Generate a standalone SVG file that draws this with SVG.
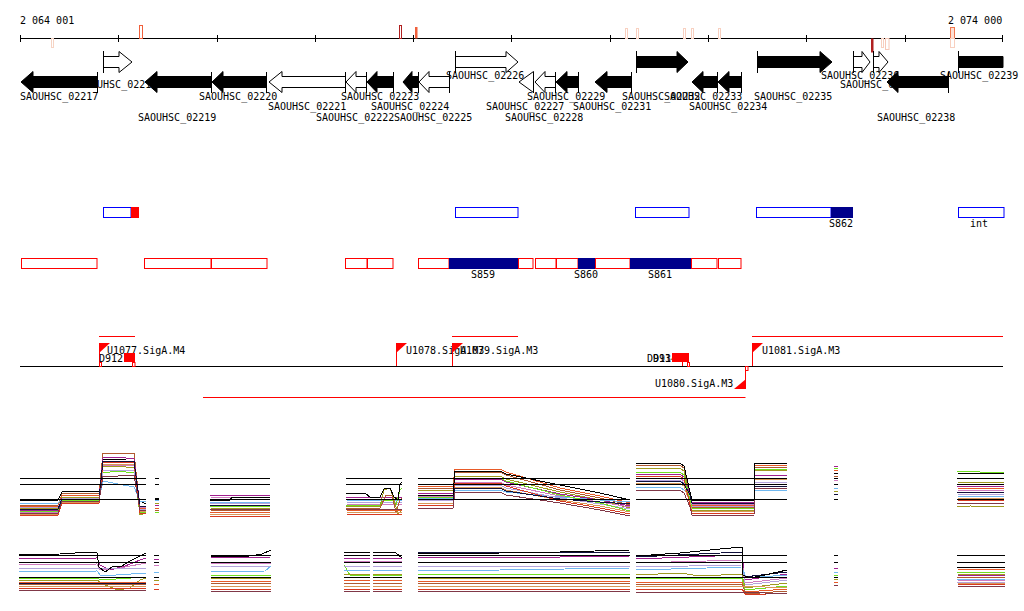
<svg xmlns="http://www.w3.org/2000/svg" width="1024" height="611" viewBox="0 0 1024 611">
<style>
.lbl{font-family:"DejaVu Sans Mono","Liberation Mono",monospace;font-size:10px;fill:#000}
.gb{fill:#000;stroke:#000;stroke-width:1}
.go{fill:#fff;stroke:#000;stroke-width:1}
.gl{stroke:#000;stroke-width:1;fill:none}
.bb{fill:none;stroke:#0000ff;stroke-width:1}
.rb{fill:none;stroke:#ff0000;stroke-width:1}
.nv{fill:#00008b}
.rl{stroke:#ff0000;stroke-width:1;fill:none}
.rf{fill:#ff0000}
.ex polyline,.ex path{fill:none;stroke-width:1;shape-rendering:crispEdges}
.ref{stroke:#000;stroke-width:1;fill:none;shape-rendering:crispEdges}
.k{stroke:#000000}.n{stroke:#10103c}.o{stroke:#e85a28}.b{stroke:#b05a30}.v{stroke:#a09a20}.m{stroke:#a0208f}
.l{stroke:#70b8f0}.p{stroke:#d07cc0}.g{stroke:#70e020}.a{stroke:#b4a4dc}.t{stroke:#d89858}.r{stroke:#d83a20}.d{stroke:#803848}
</style>
<rect width="1024" height="611" fill="#fff"/>

<g id="axis">
<text class="lbl" x="20" y="24">2 064 001</text>
<text class="lbl" x="948" y="24">2 074 000</text>
<path class="gl" d="M20,38.5H1003M20.5,35V42M118.5,35V42M217.5,35V42M315.5,35V42M413.5,35V42M511.5,35V42M610.5,35V42M708.5,35V42M806.5,35V42M905.5,35V42M1002.5,35V42"/>
<g id="axis-marks" stroke-width="1">
<rect x="51.5" y="38.5" width="2" height="9" fill="#fff" stroke="#f6d4c4"/>
<rect x="139.5" y="25.5" width="3" height="13" fill="#fff" stroke="#f0603c"/>
<rect x="399.5" y="25.5" width="2" height="13" fill="#fff" stroke="#b02020"/>
<rect x="415" y="27" width="2.5" height="11.5" fill="#f0603c"/>
<rect x="625.5" y="28.5" width="2" height="10" fill="#fff" stroke="#f8d0c0"/>
<rect x="636.5" y="28.5" width="2" height="10" fill="#fff" stroke="#f8d0c0"/>
<rect x="683.5" y="28.5" width="2" height="10" fill="#fff" stroke="#f8d0c0"/>
<rect x="691.5" y="28.5" width="2" height="10" fill="#fff" stroke="#f8d0c0"/>
<rect x="718.5" y="28.5" width="2" height="10" fill="#fff" stroke="#f8d0c0"/>
<rect x="871" y="38.5" width="2.5" height="14" fill="#b02020"/>
<rect x="881.5" y="38.5" width="2" height="9" fill="#fff" stroke="#f8d0c0"/>
<rect x="885.5" y="38.5" width="3.5" height="11" fill="#fff" stroke="#f6c8b8"/>
<rect x="950.5" y="27.5" width="4" height="11" fill="#fde0d4" stroke="#f07850"/>
<rect x="950.5" y="38.5" width="4" height="9" fill="#fff" stroke="#f8d0c0"/>
</g>
</g>

<g id="gene-labels">
<text class="lbl" x="446" y="79">SAOUHSC_02226</text>
<text class="lbl" x="821" y="79">SAOUHSC_02236</text>
<text class="lbl" x="940" y="79">SAOUHSC_02239</text>
<text class="lbl" x="79" y="87.5">SAOUHSC_02218</text>
<text class="lbl" x="840" y="87.5">SAOUHSC_02237</text>
<text class="lbl" x="20" y="100">SAOUHSC_02217</text>
<text class="lbl" x="199" y="100">SAOUHSC_02220</text>
<text class="lbl" x="341" y="100">SAOUHSC_02223</text>
<text class="lbl" x="527" y="100">SAOUHSC_02229</text>
<text class="lbl" x="622" y="100">SAOUHSC_02232</text>
<text class="lbl" x="664" y="100">SAOUHSC_02233</text>
<text class="lbl" x="754" y="100">SAOUHSC_02235</text>
<text class="lbl" x="268" y="110">SAOUHSC_02221</text>
<text class="lbl" x="371" y="110">SAOUHSC_02224</text>
<text class="lbl" x="486" y="110">SAOUHSC_02227</text>
<text class="lbl" x="573" y="110">SAOUHSC_02231</text>
<text class="lbl" x="689" y="110">SAOUHSC_02234</text>
<text class="lbl" x="138" y="121">SAOUHSC_02219</text>
<text class="lbl" x="316" y="121">SAOUHSC_02222</text>
<text class="lbl" x="394" y="121">SAOUHSC_02225</text>
<text class="lbl" x="505" y="121">SAOUHSC_02228</text>
<text class="lbl" x="877" y="121">SAOUHSC_02238</text>
</g>

<g id="genes">
<g id="gene-02217"><path class="gb" d="M21,82L33,71.5V76.5H97.5V87.5H33V92.5Z"/><path class="gl" d="M97.5,72V93"/></g>
<g id="gene-02218"><path class="go" d="M103.5,56.5H119V51.5L132,62L119,72.5V67.5H103.5Z"/><path class="gl" d="M103.5,51V73"/></g>
<g id="gene-02219"><path class="gb" d="M145,82L157,71.5V76.5H211.5V87.5H157V92.5Z"/><path class="gl" d="M211.5,72V93"/></g>
<g id="gene-02220"><path class="gb" d="M212,82L223,71.5V76.5H266.5V87.5H223V92.5Z"/><path class="gl" d="M266.5,72V93"/></g>
<g id="gene-02221"><path class="go" d="M269,82L282,71.5V76.5H345.5V87.5H282V92.5Z"/><path class="gl" d="M345.5,72V93"/></g>
<g id="gene-02222"><path class="go" d="M346,82L356,71.5V76.5H366.5V87.5H356V92.5Z"/><path class="gl" d="M366.5,72V93"/></g>
<g id="gene-02223"><path class="gb" d="M367,82L377,71.5V76.5H393.5V87.5H377V92.5Z"/><path class="gl" d="M393.5,72V93"/></g>
<g id="gene-02224"><path class="gb" d="M403,82L412,71.5V76.5H418.5V87.5H412V92.5Z"/><path class="gl" d="M418.5,72V93"/></g>
<g id="gene-02225"><path class="go" d="M419,82L429,71.5V76.5H449.5V87.5H429V92.5Z"/><path class="gl" d="M449.5,72V93"/></g>
<g id="gene-02226"><path class="go" d="M455.5,56.5H506V51.5L518,62L506,72.5V67.5H455.5Z"/><path class="gl" d="M455.5,51V73"/></g>
<g id="gene-02227"><path class="go" d="M519,82L533.5,71.5V92.5Z"/><path class="gl" d="M533.5,72V93"/></g>
<g id="gene-02228"><path class="go" d="M535,82L545,71.5V76.5H555.5V87.5H545V92.5Z"/><path class="gl" d="M555.5,72V93"/></g>
<g id="gene-02229"><path class="gb" d="M556,82L567,71.5V76.5H578.5V87.5H567V92.5Z"/><path class="gl" d="M578.5,72V93"/></g>
<g id="gene-02231"><path class="gb" d="M595,82L607,71.5V76.5H631.5V87.5H607V92.5Z"/><path class="gl" d="M631.5,72V93"/></g>
<g id="gene-02232"><path class="gb" d="M636.5,56.5H677V51.5L688,62L677,72.5V67.5H636.5Z"/><path class="gl" d="M636.5,51V73"/></g>
<g id="gene-02233"><path class="gb" d="M692,82L703,71.5V76.5H717.5V87.5H703V92.5Z"/><path class="gl" d="M717.5,72V93"/></g>
<g id="gene-02234"><path class="gb" d="M718,82L729,71.5V76.5H741.5V87.5H729V92.5Z"/><path class="gl" d="M741.5,72V93"/></g>
<g id="gene-02235"><path class="gb" d="M757.5,56.5H820V51.5L832,62L820,72.5V67.5H757.5Z"/><path class="gl" d="M757.5,51V73"/></g>
<g id="gene-02236"><path class="go" d="M853.5,56.5H862V51.5L870,62L862,72.5V67.5H853.5Z"/><path class="gl" d="M853.5,51V73"/></g>
<g id="gene-02237"><path class="go" d="M873.5,56.5H879V51.5L888,62L879,72.5V67.5H873.5Z"/><path class="gl" d="M873.5,51V73"/></g>
<g id="gene-02238"><path class="gb" d="M887,82L898,71.5V76.5H948.5V87.5H898V92.5Z"/><path class="gl" d="M948.5,72V93"/></g>
<g id="gene-02239"><path class="gb" d="M958.5,56.5H1003V67.5H958.5Z"/><path class="gl" d="M958.5,51V73"/></g>
</g>

<g id="segments-row1">
<rect class="bb" x="103.5" y="207.5" width="27.5" height="10"/><rect class="rf" x="131" y="207" width="8" height="11"/>
<rect class="bb" x="455.5" y="207.5" width="62.5" height="10"/>
<rect class="bb" x="635.5" y="207.5" width="53.5" height="10"/>
<rect class="bb" x="756.5" y="207.5" width="74.5" height="10"/><rect class="nv" x="831" y="207" width="22" height="11"/>
<rect class="bb" x="958.5" y="207.5" width="45.5" height="10"/>
<text class="lbl" x="829" y="227">S862</text>
<text class="lbl" x="970" y="227">int</text>
</g>

<g id="segments-row2">
<rect class="rb" x="21.5" y="258.5" width="75.5" height="10"/>
<rect class="rb" x="144.5" y="258.5" width="66.5" height="10"/>
<rect class="rb" x="211.5" y="258.5" width="55.5" height="10"/>
<rect class="rb" x="345.5" y="258.5" width="21.5" height="10"/>
<rect class="rb" x="367.5" y="258.5" width="25.5" height="10"/>
<rect class="rb" x="418.5" y="258.5" width="30.5" height="10"/><rect class="nv" x="449" y="258" width="69" height="11"/>
<rect class="rb" x="518.5" y="258.5" width="14.5" height="10"/>
<rect class="rb" x="535.5" y="258.5" width="20.5" height="10"/>
<rect class="rb" x="556.5" y="258.5" width="21.5" height="10"/><rect class="nv" x="578" y="258" width="17" height="11"/>
<rect class="rb" x="595.5" y="258.5" width="34.5" height="10"/><rect class="nv" x="630" y="258" width="61" height="11"/>
<rect class="rb" x="691.5" y="258.5" width="25.5" height="10"/>
<rect class="rb" x="718.5" y="258.5" width="22.5" height="10"/>
<text class="lbl" x="471" y="278">S859</text>
<text class="lbl" x="574" y="278">S860</text>
<text class="lbl" x="648" y="278">S861</text>
</g>

<g id="promoters">
<path class="gl" d="M20,366.5H1003"/>
<path class="rl" d="M99,336.5H135M452,336.5H518M752,336.5H1003M203,397.5H745.5"/>
<g id="U1077"><path class="rl" d="M99.5,343V366"/><path class="rf" d="M99,343H110L99,353Z"/><text class="lbl" x="107" y="354">U1077.SigA.M4</text></g>
<g id="D912"><text class="lbl" x="99" y="361.5">D912</text><rect class="rf" x="124" y="353" width="11" height="9"/><rect class="rb" x="99.5" y="362.5" width="2" height="4"/><rect class="rb" x="132.5" y="362.5" width="2.5" height="4"/></g>
<g id="U1078"><path class="rl" d="M396.5,343V366"/><path class="rf" d="M396,343H407L396,353Z"/><text class="lbl" x="406" y="354">U1078.SigA.M3</text></g>
<g id="U1079"><path class="rl" d="M452.5,343V366"/><path class="rf" d="M452,343H463L452,353Z"/><text class="lbl" x="460" y="354">U1079.SigA.M3</text></g>
<g id="D913"><text class="lbl" x="647" y="361.5">D913</text></g>
<g id="D914"><text class="lbl" x="653" y="361.5">D914</text><rect class="rf" x="672" y="353" width="17" height="9"/><path class="rl" d="M682.5,362V366"/><rect class="rb" x="687.5" y="362.5" width="2" height="4"/></g>
<g id="U1080"><path class="rl" d="M745.5,367V389"/><path class="rf" d="M746,389H734L746,379Z"/><rect class="rb" x="745.5" y="366.5" width="2.5" height="4"/><text class="lbl" x="655" y="387">U1080.SigA.M3</text></g>
<g id="U1081"><path class="rl" d="M752.5,343V366"/><path class="rf" d="M752,343H763L752,353Z"/><text class="lbl" x="762" y="354">U1081.SigA.M3</text></g>
</g>

<g id="expression-top" class="ex">
<polyline class="k" points="20,500 58,500 62,492 80,491 99,492 103,459 118,460 134,458 138,500 146,504"/>
<polyline class="b" points="20,505 58,505 62,494 80,493 99,494 103,453 118,454 134,453 140,509 146,509"/>
<polyline class="o" points="20,506 58,506 62,496 80,495 99,496 103,462 118,463 134,461 140,508 146,508"/>
<polyline class="v" points="20,508 58,508 62,497 80,497 99,497 103,467 118,466 134,468 140,515 146,513"/>
<polyline class="m" points="20,510 58,510 62,498 80,499 99,498 103,458 118,457 134,459 140,506 146,506"/>
<polyline class="l" points="20,503 58,503 62,499 80,499 99,499 103,481 118,484 134,487 140,501 146,501"/>
<polyline class="p" points="20,512 58,512 62,500 80,501 99,500 103,465 118,466 134,465 140,507 146,507"/>
<polyline class="g" points="20,511 58,511 62,500 80,500 99,500 103,473 118,471 134,473 140,512 146,512"/>
<polyline class="a" points="20,507 58,507 62,499 80,498 99,499 103,470 118,470 134,471 140,509 146,509"/>
<polyline class="t" points="20,514 58,514 62,502 80,502 99,502 103,464 118,464 134,464 140,511 146,511"/>
<polyline class="r" points="20,515 58,515 62,503 80,503 99,503 103,462 118,462 134,463 140,513 146,513"/>
<polyline class="n" points="20,509 58,509 62,499 80,499 99,499 103,461 118,461 134,461 140,506 146,506"/>
<polyline class="d" points="20,513 58,513 62,501 80,501 99,501 103,476 118,476 134,475 140,510 146,510"/>

<path class="k" d="M155,498H159"/><path class="l" d="M155,500H159"/><path class="v" d="M155,503H159"/><path class="m" d="M155,505H159"/><path class="o" d="M155,508H159"/><path class="b" d="M155,510H159"/><path class="g" d="M155,512H159"/>

<polyline class="m" points="210,495 240,495 270,496"/>
<polyline class="p" points="210,497 270,498"/>
<polyline class="k" points="210,500 230,500 232,497 270,497"/>
<polyline class="l" points="210,502 270,502"/>
<polyline class="a" points="210,504 240,503 270,504"/>
<polyline class="n" points="210,505 270,505"/>
<polyline class="g" points="210,506 270,506"/>
<polyline class="v" points="210,508 250,509 270,508"/>
<polyline class="d" points="210,509 270,509"/>
<polyline class="b" points="210,510 270,511"/>
<polyline class="o" points="210,512 270,512"/>
<polyline class="t" points="210,514 270,514"/>
<polyline class="r" points="210,516 270,516"/>

<polyline class="m" points="346,497 402,497"/>
<polyline class="n" points="346,499 402,500"/>
<polyline class="l" points="346,500 402,501"/>
<polyline class="a" points="346,502 402,503"/>
<polyline class="p" points="346,504 402,505"/>
<polyline class="g" points="346,505 380,505 384,500 392,500 396,505 400,490 402,488"/>
<polyline class="v" points="346,506 380,506 384,490 390,488 394,500 398,514 402,510"/>
<polyline class="b" points="346,508 380,508 386,495 392,496 396,512 400,500 402,498"/>
<polyline class="d" points="346,509 402,509"/>
<polyline class="o" points="346,510 402,511"/>
<polyline class="t" points="346,512 402,513"/>
<polyline class="r" points="346,514 402,515"/>
<polyline class="k" points="346,493 366,494 370,497 380,497 384,489 390,488 394,497 398,500 400,484 402,482"/>

<polyline class="o" points="418,486 453,486 455,469 500,469 506,472 560,488 600,496 630,503"/>
<polyline class="b" points="418,488 453,488 455,472 500,472 506,475 560,490 600,498 630,505"/>
<polyline class="v" points="418,490 453,490 455,476 500,476 506,479 560,492 600,500 630,508"/>
<polyline class="m" points="418,493 453,493 455,479 500,479 506,482 560,494 600,500 630,506"/>
<polyline class="p" points="418,496 453,496 455,482 500,482 506,485 560,496 600,502 630,507"/>
<polyline class="l" points="418,498 453,498 455,490 500,490 506,492 560,497 600,500 630,502"/>
<polyline class="a" points="418,500 453,500 455,485 500,485 506,488 560,498 600,504 630,509"/>
<polyline class="g" points="418,497 453,497 455,478 500,478 506,481 560,495 600,503 630,511"/>
<polyline class="t" points="418,503 453,503 455,487 500,487 506,490 560,500 600,506 630,512"/>
<polyline class="r" points="418,505 453,505 455,483 500,483 506,486 560,501 600,508 630,514"/>
<polyline class="n" points="418,499 453,499 455,488 500,488 506,491 560,499 600,502 630,504"/>
<polyline class="d" points="418,508 453,508 455,492 500,492 506,495 560,503 600,510 630,516"/>
<polyline class="k" points="418,495 453,495 455,471 500,471 506,474 560,485 600,493 630,500"/>

<polyline class="o" points="636,463 680,463 684,466 690,497 692,505 720,506 754,505 755,465 787,465"/>
<polyline class="b" points="636,465 680,465 684,468 690,499 692,507 720,508 754,507 755,467 787,467"/>
<polyline class="v" points="636,468 680,468 684,471 690,502 692,510 720,511 754,510 755,470 787,470"/>
<polyline class="m" points="636,474 680,474 684,477 690,494 692,502 720,503 754,502 755,475 787,475"/>
<polyline class="p" points="636,478 680,478 684,481 690,496 692,504 720,505 754,504 755,478 787,478"/>
<polyline class="a" points="636,480 680,480 684,483 690,498 692,506 720,507 754,506 755,482 787,482"/>
<polyline class="l" points="636,487 680,487 684,490 690,495 692,503 720,504 754,503 755,490 787,490"/>
<polyline class="g" points="636,472 680,472 684,475 690,500 692,508 720,509 754,508 755,469 787,469"/>
<polyline class="t" points="636,483 680,483 684,486 690,503 692,511 720,512 754,511 755,479 787,479"/>
<polyline class="r" points="636,476 680,476 684,479 690,505 692,513 720,514 754,513 755,484 787,484"/>
<polyline class="n" points="636,481 680,481 684,484 690,495 692,503 720,504 754,503 755,486 787,486"/>
<polyline class="d" points="636,490 680,490 684,493 690,507 692,515 720,516 754,515 755,488 787,488"/>
<polyline class="k" points="636,463 680,463 684,466 690,492 692,500 720,501 754,500 755,463 787,463"/>

<path class="m" d="M834,466H838"/><path class="g" d="M834,468H838"/><path class="o" d="M834,470H838"/><path class="k" d="M834,473H838"/><path class="b" d="M834,476H838"/><path class="p" d="M834,480H838"/><path class="l" d="M834,488H838"/><path class="v" d="M834,491H838"/><path class="n" d="M834,494H838"/>

<polyline class="g" points="957,471 980,472 1004,473"/>
<polyline class="k" points="957,473 1004,474"/>
<polyline class="v" points="957,482 1004,483"/>
<polyline class="b" points="957,484 1004,485"/>
<polyline class="m" points="957,486 990,487 1004,486"/>
<polyline class="o" points="957,488 1004,489"/>
<polyline class="p" points="957,490 1004,491"/>
<polyline class="n" points="957,492 1004,492"/>
<polyline class="a" points="957,494 1004,495"/>
<polyline class="l" points="957,496 1004,497"/>
<polyline class="t" points="957,498 1004,499"/>
<polyline class="r" points="957,500 1004,501"/>
<polyline class="d" points="957,503 1004,503"/>
<polyline class="v" points="957,507 970,506 1004,507"/>

<path class="ref" d="M20,478.5H146M20,484.5H146M20,499.5H146M155,478.5H159M155,484.5H159M155,499.5H159M210,478.5H270M210,484.5H270M210,499.5H270M346,478.5H402M346,484.5H402M346,499.5H402M418,478.5H630M418,484.5H630M418,499.5H630M636,478.5H787M636,484.5H787M636,499.5H787M834,478.5H838M834,484.5H838M834,499.5H838M957,478.5H1004M957,484.5H1004M957,499.5H1004"/>
</g>

<g id="expression-bottom" class="ex">
<polyline class="m" points="19,559 97,558 100,565 110,570 125,566 140,560 146,558"/>
<polyline class="p" points="19,565 97,564 100,570 120,568 146,563"/>
<polyline class="a" points="19,569 146,568"/>
<polyline class="l" points="19,572 97,571 101,576 146,573"/>
<polyline class="g" points="19,578 97,578 101,580 146,577"/>
<polyline class="v" points="19,580 97,580 105,585 118,590 130,588 140,580 146,578"/>
<polyline class="o" points="19,582 146,583"/>
<polyline class="n" points="19,583 146,583"/>
<polyline class="b" points="19,584 146,585"/>
<polyline class="t" points="19,586 146,586"/>
<polyline class="r" points="19,588 146,589"/>
<polyline class="d" points="19,590 146,591"/>
<polyline class="k" points="19,555 60,554 90,552 97,553 99,567 105,572 112,567 122,566 130,561 140,556 146,553"/>

<path class="k" d="M154,555H159"/><path class="m" d="M154,559H159"/><path class="p" d="M154,565H159"/><path class="l" d="M154,572H159"/><path class="v" d="M154,580H159"/><path class="o" d="M154,584H159"/><path class="r" d="M154,589H159"/>

<polyline class="m" points="211,558 271,557"/>
<polyline class="p" points="211,563 271,563"/>
<polyline class="a" points="211,567 271,566"/>
<polyline class="l" points="211,572 265,571 271,566"/>
<polyline class="g" points="211,575 271,575"/>
<polyline class="v" points="211,578 271,578"/>
<polyline class="o" points="211,581 271,581"/>
<polyline class="b" points="211,583 271,583"/>
<polyline class="t" points="211,586 271,586"/>
<polyline class="r" points="211,589 271,589"/>
<polyline class="d" points="211,591 271,591"/>
<polyline class="k" points="211,557 250,556 262,554 271,550"/>

<path class="m" d="M344,558H370M373,558H402"/>
<path class="p" d="M344,561H370M373,561H402"/>
<path class="g" d="M344,565L350,575H370M373,575H402"/>
<path class="a" d="M344,566H370M373,566H402"/>
<path class="l" d="M344,570H370M373,570H402"/>
<path class="v" d="M344,574H370M373,574H402"/>
<path class="o" d="M344,580H370M373,580H402"/>
<path class="b" d="M344,583H370M373,583H402"/>
<path class="t" d="M344,586H370M373,586H402"/>
<path class="r" d="M344,589H370M373,589H402"/>
<path class="d" d="M344,591H370M373,591H402"/>
<path class="k" d="M344,552H370M373,552H395L402,558"/>

<polyline class="n" points="418,553 630,552"/>
<polyline class="m" points="418,558 560,557 630,556"/>
<polyline class="p" points="418,563 630,562"/>
<polyline class="a" points="418,567 630,566"/>
<polyline class="l" points="418,571 500,570 630,568"/>
<polyline class="g" points="418,575 630,574"/>
<polyline class="v" points="418,578 630,578"/>
<polyline class="o" points="418,581 630,581"/>
<polyline class="b" points="418,583 630,583"/>
<polyline class="t" points="418,586 630,586"/>
<polyline class="r" points="418,589 630,589"/>
<polyline class="d" points="418,592 630,591"/>
<polyline class="k" points="418,554 500,553 560,552 630,550"/>

<polyline class="n" points="636,557 742,552 744,577 787,572"/>
<polyline class="m" points="636,559 742,555 745,580 787,574"/>
<polyline class="p" points="636,563 742,560 745,583 787,578"/>
<polyline class="a" points="636,567 742,565 745,585 787,580"/>
<polyline class="l" points="636,570 742,567 746,578 787,575"/>
<polyline class="v" points="636,575 680,573 700,576 742,574 745,588 787,583"/>
<polyline class="g" points="636,578 742,578 745,590 787,586"/>
<polyline class="o" points="636,582 742,582 745,592 787,589"/>
<polyline class="b" points="636,584 742,584 746,594 787,591"/>
<polyline class="t" points="636,586 742,586 787,588"/>
<polyline class="r" points="636,589 742,589 746,595 787,593"/>
<polyline class="d" points="636,592 742,592 787,594"/>
<polyline class="k" points="636,556 680,553 720,549 742,547 743,575 750,578 760,576 787,570"/>

<path class="m" d="M834,568H838"/><path class="l" d="M834,572H838"/><path class="g" d="M834,575H838"/><path class="v" d="M834,579H838"/><path class="o" d="M834,582H838"/><path class="d" d="M834,585H838"/>

<polyline class="k" points="957,567 1005,567"/>
<polyline class="o" points="957,569 1005,570"/>
<polyline class="g" points="957,572 1005,572"/>
<polyline class="v" points="957,574 1005,575"/>
<polyline class="m" points="957,575 1005,576"/>
<polyline class="b" points="957,577 1005,577"/>
<polyline class="l" points="957,579 1005,579"/>
<polyline class="p" points="957,580 1005,581"/>
<polyline class="a" points="957,582 1005,582"/>
<polyline class="t" points="957,583 1005,584"/>
<polyline class="r" points="957,584 1005,585"/>
<polyline class="d" points="957,586 1005,587"/>

<path class="ref" d="M19,555.5H146M19,562.5H146M19,577.5H146M154,555.5H159M154,562.5H159M154,577.5H159M211,555.5H271M211,562.5H271M211,577.5H271M344,555.5H370M344,562.5H370M344,577.5H370M373,555.5H402M373,562.5H402M373,577.5H402M418,555.5H630M418,562.5H630M418,577.5H630M636,555.5H787M636,562.5H787M636,577.5H787M834,555.5H838M834,562.5H838M834,577.5H838M957,555.5H1005M957,562.5H1005"/>
</g>
</svg>
